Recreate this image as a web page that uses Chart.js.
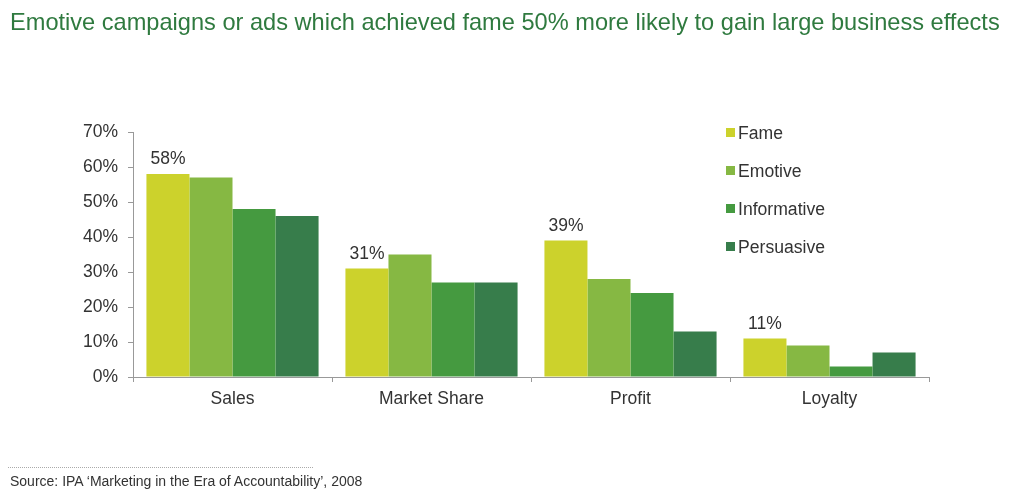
<!DOCTYPE html>
<html>
<head>
<meta charset="utf-8">
<script src="https://cdn.jsdelivr.net/npm/chart.js@4/dist/chart.umd.min.js"></script>
<style>
  html,body{margin:0;padding:0;background:#fff;width:1024px;height:496px;overflow:hidden;font-family:"Liberation Sans",Arial,sans-serif;}
  #wrap{position:absolute;left:0;top:0;width:1024px;height:496px;}
  #title{position:absolute;left:10px;top:9px;font-size:23.6px;color:#2f7a3f;white-space:nowrap;}
  #legend{position:absolute;left:726px;top:122px;}
  .li{position:absolute;left:0;height:22px;font-size:17.6px;color:#333;white-space:nowrap;line-height:22px;}
  .sw{display:inline-block;width:9px;height:9px;margin-right:3px;vertical-align:2px;}
  #rule{position:absolute;left:8px;top:467px;width:305px;border-top:1px dotted #aaa;}
  #source{position:absolute;left:10px;top:473px;font-size:14px;color:#333;white-space:nowrap;}
</style>
</head>
<body>
<div id="wrap">
  <canvas id="c" width="1024" height="496"></canvas>
  <div id="title">Emotive campaigns or ads which achieved fame 50% more likely to gain large business effects</div>
  <div id="legend"></div>
  <div id="rule"></div>
  <div id="source">Source: IPA ‘Marketing in the Era of Accountability’, 2008</div>
</div>
<script>
const categories = ["Sales", "Market Share", "Profit", "Loyalty"];
const seriesNames = ["Fame", "Emotive", "Informative", "Persuasive"];
const fame = [58, 31, 39, 11];
const emotive = [57, 35, 28, 9];
const informative = [48, 27, 24, 3];
const persuasive = [46, 27, 13, 7];
const yTicks = [0, 10, 20, 30, 40, 50, 60, 70];
const colors = ["#ccd22c", "#86b843", "#459a40", "#377d4b"];

const seriesValues = [fame, emotive, informative, persuasive];
const FONT = '"Liberation Sans", Arial, sans-serif';

// HTML legend
const leg = document.getElementById('legend');
seriesNames.forEach((n, i) => {
  const d = document.createElement('div');
  d.className = 'li';
  d.style.top = (i * 38) + 'px';
  d.innerHTML = '<span class="sw" style="background:' + colors[i] + '"></span>' + n;
  leg.appendChild(d);
});

const labelPlugin = {
  id: 'fameLabels',
  afterDatasetsDraw(chart) {
    const ctx = chart.ctx;
    const meta = chart.getDatasetMeta(0);
    ctx.save();
    ctx.font = '17.5px ' + FONT;
    ctx.fillStyle = '#333';
    ctx.textAlign = 'center';
    ctx.textBaseline = 'bottom';
    meta.data.forEach((bar, i) => {
      ctx.fillText(fame[i] + '%', bar.x, bar.y - 6);
    });
    ctx.restore();
  }
};

new Chart(document.getElementById('c'), {
  type: 'bar',
  data: {
    labels: categories,
    datasets: seriesNames.map((n, i) => ({
      label: n,
      data: seriesValues[i],
      backgroundColor: colors[i],
      borderWidth: 0,
      barPercentage: 1.0,
      categoryPercentage: 0.865
    }))
  },
  options: {
    responsive: false,
    animation: false,
    events: [],
    layout: { padding: { left: 0, top: 132, right: 95, bottom: 0 } },
    plugins: { legend: { display: false }, tooltip: { enabled: false } },
    scales: {
      x: {
        grid: { display: true, drawOnChartArea: false, offset: true, color: '#999', tickLength: 5, tickColor: '#999' },
        border: { color: '#999', width: 1 },
        ticks: { color: '#333', font: { size: 17.5, family: FONT }, padding: 7, maxRotation: 0 },
        afterFit(s) { s.height = 119; }
      },
      y: {
        min: 0, max: 70,
        afterBuildTicks(s) { s.ticks = yTicks.map(v => ({ value: v })); },
        grid: { display: true, drawOnChartArea: false, color: '#999', tickLength: 5, tickColor: '#999' },
        border: { color: '#999', width: 1 },
        ticks: { color: '#333', font: { size: 17.5, family: FONT }, padding: 10, callback: v => v + '%' },
        afterFit(s) { s.width = 133; }
      }
    }
  },
  plugins: [labelPlugin]
});
</script>
</body>
</html>
